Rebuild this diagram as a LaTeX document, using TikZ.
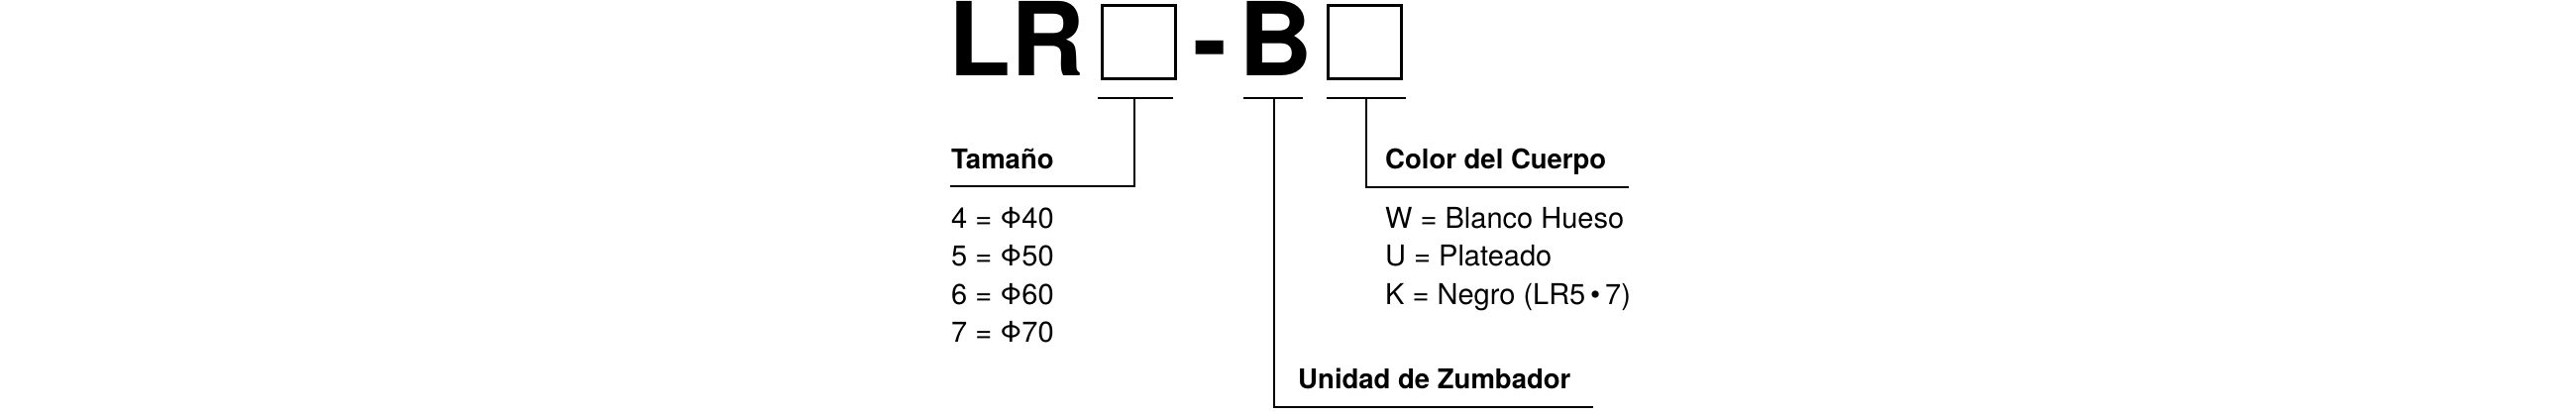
\documentclass[tikz,border=0pt]{standalone}
\usepackage{fontspec}
\setmainfont{TeX Gyre Heros}
\usetikzlibrary{positioning}
\tikzset{
  label text/.style={anchor=base west,inner sep=0pt,font=\fontsize{29}{34}\selectfont},
  head text/.style={anchor=base west,inner sep=0pt,font=\fontsize{27.5}{32}\selectfont\bfseries},
  code text/.style={anchor=base west,inner sep=0pt,font=\fontsize{103}{110}\selectfont\bfseries},
  slot/.style={draw,line width=3pt,minimum width=74pt,minimum height=74pt,inner sep=0pt},
  lead/.style={line width=1.5pt}
}
\begin{document}
\begin{tikzpicture}[x=1pt,y=-1pt]
    \useasboundingbox (0,0) rectangle (2600,420);

    % model code
    \node[code text] (lr) at (957,77) {LR};
    \node[slot] (s1) at (1149,43) {};
    \node[code text,anchor=base] (dash) at (1222,77) {-};
    \node[code text] (b) at (1250,77) {B};
    \node[slot] (s2) at (1377,43) {};

    % brackets under the code
    \coordinate (t1a) at (1108,99);
    \coordinate (t1b) at (1184,99);
    \coordinate (t1m) at (1145,99);
    \coordinate (t2a) at (1255,99);
    \coordinate (t2b) at (1315,99);
    \coordinate (t2m) at (1286,99);
    \coordinate (t3a) at (1339,99);
    \coordinate (t3b) at (1419,99);
    \coordinate (t3m) at (1379,99);
    \draw[lead] (t1a) -- (t1b);
    \draw[lead] (t2a) -- (t2b);
    \draw[lead] (t3a) -- (t3b);

    % size
    \node[head text] (size) at (960,170) {Tamaño};
    \coordinate (size l) at (959,188);
    \coordinate (size r) at (1145,188);
    \draw[lead] (t1m) -- (size r) -- (size l);
    \foreach \n [count=\i from 0] in {4,5,6,7}
        \node[label text] (size\n) at (960,{230+38.5*\i}) {\n\ = Φ\n0};

    % colour
    \node[head text] (col) at (1398,170) {Color del Cuerpo};
    \coordinate (col l) at (1379,189);
    \coordinate (col r) at (1644,189);
    \draw[lead] (t3m) -- (col l) -- (col r);
    \node[label text] (colw) at (1398,230) {W = Blanco Hueso};
    \node[label text] (colu) at (1398,268) {U = Plateado};
    \node[label text] (colk) at (1398,307) {K = Negro (LR5\,•\,7)};

    % buzzer
    \node[head text] (buz) at (1310,392) {Unidad de Zumbador};
    \coordinate (buz l) at (1286,411);
    \coordinate (buz r) at (1608,411);
    \draw[lead] (t2m) -- (buz l) -- (buz r);
\end{tikzpicture}
\end{document}
